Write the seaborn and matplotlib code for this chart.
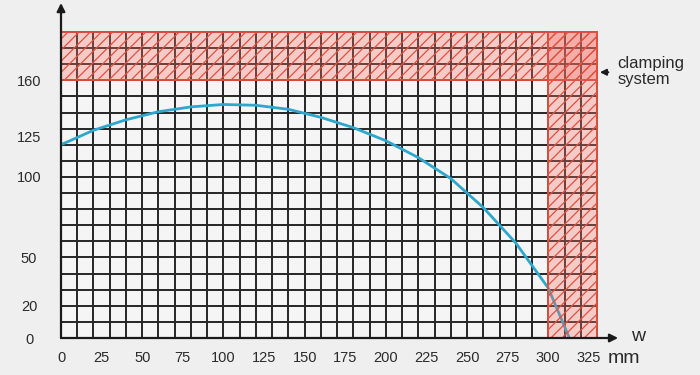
import matplotlib
matplotlib.use("Agg")
import matplotlib.pyplot as plt
from matplotlib.patches import Rectangle
import seaborn as sns
import pandas as pd

# ---- data ----
curve_w = [0, 20, 40, 60, 80, 100, 120, 140, 160, 180, 200, 220, 240, 260, 280, 300, 313]
curve_h = [120, 129, 135.5, 140.5, 143.5, 145, 144.5, 142, 137, 130.6, 122.5, 112, 99, 81, 59, 31, 0]
x_ticks = [0, 25, 50, 75, 100, 125, 150, 175, 200, 225, 250, 275, 300, 325]
y_ticks = [0, 20, 50, 100, 125, 160]
x_max, y_max, grid_step = 330, 190, 10
clamp_top = 160      # clamping zone along the top (height)
clamp_right = 300    # clamping zone along the right (width)

sns.set_style("white")
plt.rcParams["font.family"] = ["Liberation Sans", "DejaVu Sans"]
plt.rcParams["hatch.linewidth"] = 0.9

fig = plt.figure(figsize=(7, 3.75), dpi=100, facecolor="#efefef")
ax = fig.add_axes([61 / 700, 1 - 338 / 375, 536 / 700, 306 / 375])
ax.set_facecolor("#f5f5f5")

# grid every 10 units
gx = list(range(0, x_max + 1, grid_step))
gy = list(range(0, y_max + 1, grid_step))
ax.vlines(gx, 0, y_max, colors="#262626", linewidth=1.4, zorder=1, clip_on=False)
ax.hlines(gy, 0, x_max, colors="#262626", linewidth=1.4, zorder=1, clip_on=False)

df = pd.DataFrame({"w": curve_w, "h": curve_h})
sns.lineplot(data=df, x="w", y="h", ax=ax, color="#2ea7cf", linewidth=2.0,
             zorder=3, sort=False)

ax.set_xlim(0, x_max)
ax.set_ylim(0, y_max)
ax.grid(False)

ax.set_xticks(x_ticks)
ax.set_xticklabels([str(v) for v in x_ticks])
ax.set_yticks(y_ticks)
ax.set_yticklabels([str(v) for v in y_ticks])
ax.tick_params(which="both", length=0)
ax.tick_params(axis="x", pad=9, labelsize=10.5, labelcolor="#2b2b2b")
ax.tick_params(axis="y", pad=23, labelsize=10.5, labelcolor="#2b2b2b")
for lbl in ax.get_yticklabels():
    lbl.set_horizontalalignment("center")
ax.set_xlabel("")
ax.set_ylabel("")
for s in ax.spines.values():
    s.set_visible(False)

# clamping system zones
face = (0.96, 0.45, 0.40, 0.32)
edge = "#e2503f"
ax.add_patch(Rectangle((0, clamp_top), x_max, y_max - clamp_top, facecolor=face,
                       edgecolor=edge, hatch="///", linewidth=1.3, zorder=4, clip_on=False))
ax.add_patch(Rectangle((clamp_right, 0), x_max - clamp_right, y_max, facecolor=face,
                       edgecolor=edge, hatch="///", linewidth=1.3, zorder=4, clip_on=False))

# axis arrows
ax.annotate("", xy=(0, 208), xytext=(0, 0), annotation_clip=False,
            arrowprops=dict(arrowstyle="-|>", color="#1a1a1a", lw=1.6,
                            mutation_scale=12, shrinkA=0, shrinkB=0), zorder=5)
ax.annotate("", xy=(343, 0), xytext=(0, 0), annotation_clip=False,
            arrowprops=dict(arrowstyle="-|>", color="#1a1a1a", lw=1.6,
                            mutation_scale=12, shrinkA=0, shrinkB=0), zorder=5)

# labels
ax.text(355, 1, "w", fontsize=14, color="#2b2b2b", ha="center", va="center", clip_on=False)
ax.text(346.5, -12.5, "mm", fontsize=14, color="#2b2b2b", ha="center", va="center", clip_on=False)

ax.annotate("", xy=(331.8, 165), xytext=(337, 165), annotation_clip=False,
            arrowprops=dict(arrowstyle="-|>", color="#1a1a1a", lw=1.4,
                            mutation_scale=9, shrinkA=0, shrinkB=0))
ax.text(342.5, 165.5, "clamping\nsystem", fontsize=12, color="#2b2b2b",
        ha="left", va="center", linespacing=1.15, clip_on=False)

fig.savefig("out.png", dpi=100, facecolor=fig.get_facecolor())
